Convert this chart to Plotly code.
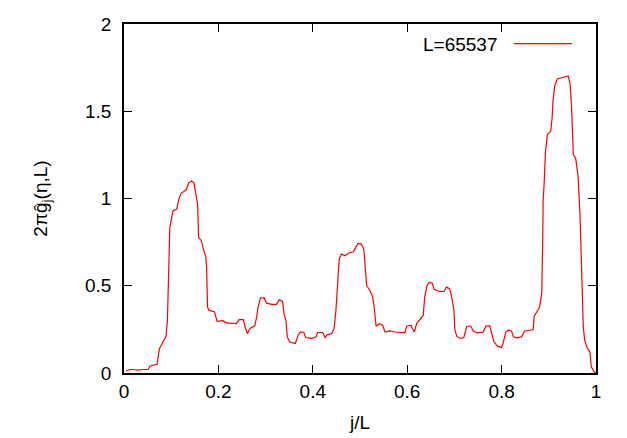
import plotly.graph_objects as go

x_vals = [0.004, 0.012, 0.020, 0.030, 0.040, 0.051, 0.055, 0.070, 0.075, 0.083, 0.089, 0.092, 0.095, 0.097,
          0.101, 0.104, 0.112, 0.116, 0.121, 0.129, 0.132, 0.137, 0.143, 0.148, 0.152, 0.156, 0.158, 0.164,
          0.168, 0.173, 0.175, 0.177, 0.180, 0.192, 0.197, 0.210, 0.217, 0.238, 0.244, 0.253, 0.256, 0.261,
          0.267, 0.277, 0.281, 0.284, 0.289, 0.297, 0.302, 0.313, 0.323, 0.329, 0.336, 0.339, 0.343, 0.346,
          0.351, 0.363, 0.369, 0.374, 0.381, 0.385, 0.397, 0.407, 0.410, 0.421, 0.426, 0.430, 0.440, 0.445,
          0.449, 0.452, 0.456, 0.461, 0.468, 0.476, 0.486, 0.491, 0.496, 0.503, 0.508, 0.510, 0.514, 0.521,
          0.527, 0.530, 0.534, 0.541, 0.548, 0.553, 0.563, 0.574, 0.595, 0.599, 0.608, 0.611, 0.615, 0.620,
          0.628, 0.634, 0.637, 0.642, 0.647, 0.653, 0.657, 0.669, 0.678, 0.683, 0.690, 0.695, 0.699, 0.701,
          0.705, 0.712, 0.720, 0.726, 0.735, 0.740, 0.750, 0.761, 0.767, 0.775, 0.779, 0.784, 0.791, 0.800,
          0.803, 0.809, 0.814, 0.821, 0.825, 0.832, 0.842, 0.849, 0.860, 0.867, 0.869, 0.874, 0.879, 0.881,
          0.885, 0.887, 0.888, 0.890, 0.893, 0.897, 0.904, 0.907, 0.909, 0.913, 0.918, 0.927, 0.936, 0.941,
          0.945, 0.948, 0.952, 0.957, 0.962, 0.966, 0.969, 0.973, 0.976, 0.981, 0.987, 0.990, 0.996, 1.0]

y_vals = [0.01, 0.02, 0.02, 0.017, 0.02, 0.02, 0.04, 0.05, 0.14, 0.18, 0.21, 0.30, 0.64, 0.83,
          0.89, 0.93, 0.94, 0.995, 1.03, 1.047, 1.05, 1.09, 1.10, 1.09, 1.02, 0.967, 0.777, 0.758,
          0.71, 0.67, 0.606, 0.378, 0.36, 0.35, 0.296, 0.30, 0.287, 0.283, 0.306, 0.306, 0.27, 0.226,
          0.255, 0.27, 0.32, 0.378, 0.43, 0.43, 0.40, 0.393, 0.393, 0.42, 0.41, 0.34, 0.30, 0.207,
          0.178, 0.169, 0.217, 0.235, 0.232, 0.203, 0.198, 0.207, 0.232, 0.232, 0.203, 0.217, 0.226, 0.255,
          0.359, 0.511, 0.654, 0.682, 0.672, 0.688, 0.695, 0.72, 0.742, 0.739, 0.71, 0.644, 0.501, 0.473,
          0.435, 0.378, 0.268, 0.283, 0.274, 0.235, 0.241, 0.235, 0.232, 0.268, 0.274, 0.255, 0.235, 0.283,
          0.312, 0.33, 0.435, 0.501, 0.52, 0.515, 0.479, 0.467, 0.467, 0.492, 0.483, 0.425, 0.359, 0.245,
          0.211, 0.198, 0.203, 0.268, 0.268, 0.239, 0.23, 0.235, 0.27, 0.27, 0.226, 0.178, 0.154, 0.146,
          0.169, 0.235, 0.245, 0.241, 0.207, 0.201, 0.207, 0.241, 0.245, 0.249, 0.325, 0.344, 0.369, 0.387,
          0.454, 0.739, 0.986, 1.081, 1.271, 1.366, 1.385, 1.46, 1.565, 1.651, 1.685, 1.692, 1.698, 1.702,
          1.66, 1.537, 1.252, 1.229, 1.128, 0.91, 0.644, 0.264, 0.188, 0.146, 0.121, 0.036, 0.007, 0.0]

x_ticks = [0, 0.2, 0.4, 0.6, 0.8, 1]
x_tick_labels = ["0", "0.2", "0.4", "0.6", "0.8", "1"]
y_ticks = [0, 0.5, 1, 1.5, 2]
y_tick_labels = ["0", "0.5", "1", "1.5", "2"]
series_name = "L=65537"

FONT = "Liberation Sans"
FS = 19

fig = go.Figure()
fig.add_trace(go.Scatter(x=x_vals, y=y_vals, mode="lines", name=series_name,
                         line=dict(color="#ff0000", width=1.2), showlegend=False))

axis_common = dict(showline=True, linecolor="black", linewidth=1.5, mirror="ticks",
                   ticks="inside", ticklen=8, tickwidth=1.2, tickcolor="black",
                   showgrid=False, zeroline=False,
                   tickfont=dict(family=FONT, size=FS, color="black"))

fig.update_xaxes(range=[0, 1], tickvals=x_ticks, ticktext=x_tick_labels,
                 title=dict(text="j/L", font=dict(family=FONT, size=FS, color="black"), standoff=15),
                 ticklabelstandoff=0, **axis_common)
fig.update_yaxes(range=[0, 2], tickvals=y_ticks, ticktext=y_tick_labels,
                 title=dict(text="2πĝ<sub>j</sub>(η,L)", font=dict(family=FONT, size=FS, color="black"), standoff=32),
                 ticklabelstandoff=7, **axis_common)

fig.add_annotation(x=0.797, y=0.94, xref="paper", yref="paper", text=series_name,
                   showarrow=False, xanchor="right", yanchor="middle",
                   font=dict(family=FONT, size=FS, color="black"))
fig.add_shape(type="line", xref="paper", yref="paper", x0=0.826, x1=0.949, y0=0.9436, y1=0.9436,
              line=dict(color="#ff0000", width=1.2))

fig.update_layout(width=619, height=430, margin=dict(l=116, r=31, t=16, b=65, autoexpand=False),
                  paper_bgcolor="white", plot_bgcolor="white",
                  font=dict(family=FONT, size=FS, color="black"))

fig.write_html("out.html")
